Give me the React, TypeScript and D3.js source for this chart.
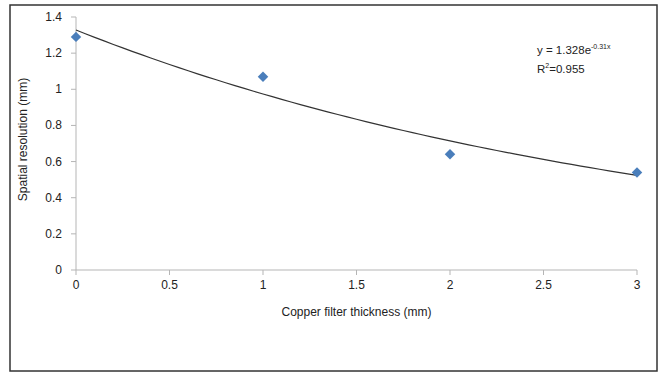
import React from 'react';
import * as d3 from 'd3';

// measured points
const thickness = [0, 1, 2, 3];
const resolution = [1.29, 1.07, 0.64, 0.54];

// exponential fit y = a * e^(b x)
const fitA = 1.328;
const fitB = -0.31;

const xTicks = [0, 0.5, 1, 1.5, 2, 2.5, 3];
const yTicks = [0, 0.2, 0.4, 0.6, 0.8, 1, 1.2, 1.4];

const WIDTH = 659;
const HEIGHT = 374;
const plot = { left: 76, right: 637, top: 17, bottom: 270 };

const font = '"Liberation Sans", Arial, sans-serif';

const App = () => {
  const x = d3.scaleLinear().domain([0, 3]).range([plot.left, plot.right]);
  const y = d3.scaleLinear().domain([0, 1.4]).range([plot.bottom, plot.top]);

  // sample the fitted curve across the domain
  const curveXs = d3.range(0, 3.0001, 0.05);
  const trend = d3.line<number>()
    .x(d => x(d))
    .y(d => y(fitA * Math.exp(fitB * d)))(curveXs);

  const points = thickness.map((t, i) => ({ t, r: resolution[i] }));
  const diamond = d3.symbol().type(d3.symbolDiamond2).size(70)();

  return (
    <div>
      <style>{'body{margin:0}'}</style>
      <svg width={WIDTH} height={HEIGHT} style={{ display: 'block', fontFamily: font }}>
        <rect x={0} y={0} width={WIDTH} height={HEIGHT} fill="#fff" />
        <rect x={10} y={5} width={647} height={366} fill="none" stroke="#333" strokeWidth={1.5} />

        {/* y axis */}
        <line x1={plot.left} x2={plot.left} y1={plot.top} y2={plot.bottom} stroke="#b5b5b5" />
        {yTicks.map(t => (
          <g key={`y-${t}`}>
            <line x1={plot.left - 5} x2={plot.left} y1={y(t)} y2={y(t)} stroke="#b5b5b5" />
            <text x={plot.left - 14} y={y(t) + 4} textAnchor="end" fontSize={12} fill="#222">
              {t}
            </text>
          </g>
        ))}

        {/* x axis */}
        <line x1={plot.left} x2={plot.right} y1={plot.bottom} y2={plot.bottom} stroke="#b5b5b5" />
        {xTicks.map(t => (
          <g key={`x-${t}`}>
            <line x1={x(t)} x2={x(t)} y1={plot.bottom} y2={plot.bottom + 5} stroke="#b5b5b5" />
            <text x={x(t)} y={plot.bottom + 19} textAnchor="middle" fontSize={12} fill="#222">
              {t}
            </text>
          </g>
        ))}

        {/* trend line */}
        <path d={trend || ''} fill="none" stroke="#333" strokeWidth={1.2} />

        {/* data points */}
        {points.map(p => (
          <path
            key={p.t}
            d={diamond || ''}
            transform={`translate(${x(p.t)},${y(p.r)})`}
            fill="#4a7ebb"
          />
        ))}

        {/* equation */}
        <text x={537} y={54} fontSize={11.5} fill="#222">
          y = 1.328e
          <tspan fontSize={7} dy={-5}>-0.31x</tspan>
        </text>
        <text x={537} y={73} fontSize={11.5} fill="#222">
          R<tspan fontSize={7} dy={-5}>2</tspan>
          <tspan dy={5}>=0.955</tspan>
        </text>

        {/* axis titles */}
        <text x={(plot.left + plot.right) / 2} y={316} textAnchor="middle" fontSize={12} fill="#222">
          Copper filter thickness (mm)
        </text>
        <text
          transform={`translate(27, ${(plot.top + plot.bottom) / 2 - 4}) rotate(-90)`}
          textAnchor="middle"
          fontSize={12}
          fill="#222"
        >
          Spatial resolution (mm)
        </text>
      </svg>
    </div>
  );
};

export default App;
